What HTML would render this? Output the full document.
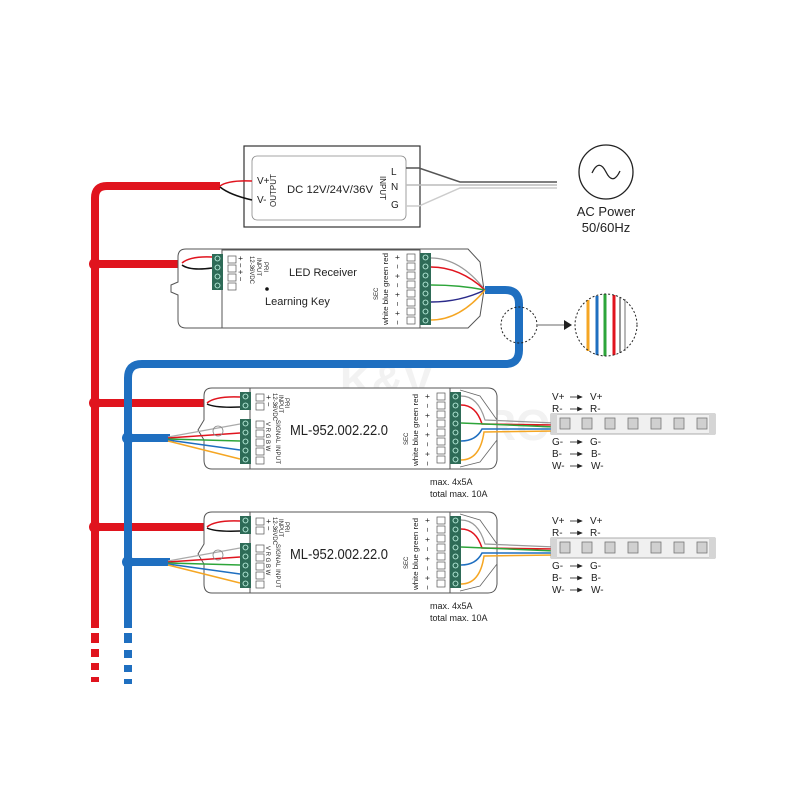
<!DOCTYPE html>
<html><head><meta charset="utf-8"><style>
html,body{margin:0;padding:0;background:#fff}
svg{display:block}
text{font-family:"Liberation Sans",sans-serif;fill:#222}
</style></head><body>
<svg width="800" height="800" viewBox="0 0 800 800" xmlns="http://www.w3.org/2000/svg">
<defs>
<g id="term"><rect x="0" y="0" width="11" height="9" fill="#2e6b57"/><circle cx="5.5" cy="4.5" r="2.5" fill="none" stroke="#cfe" stroke-width="0.8"/></g>
<g id="sq"><rect x="0" y="0" width="8" height="7" fill="#fff" stroke="#555" stroke-width="0.7"/></g>
<marker id="ah" markerWidth="8" markerHeight="8" refX="6" refY="3" orient="auto"><path d="M0,0 L7,3 L0,6 Z" fill="#222"/></marker>
<g id="ctrl">
  <path d="M212,388 L488,388 Q496,388 497,396 L497,460 Q496,469 488,469 L212,469 Q204,469 204,460 L204,440 L198,430 L204,420 L204,396 Q204,388 212,388 Z" fill="#fff" stroke="#555" stroke-width="1"/>
  <path d="M460,390 L480,396 L497,420 L497,440 L480,462 L460,467" fill="none" stroke="#666" stroke-width="0.8"/>
  <rect x="250" y="388" width="200" height="81" fill="#fff" stroke="#555" stroke-width="1"/>
  <use href="#term" x="240" y="392"/><use href="#term" x="240" y="401"/>
  <use href="#term" x="240" y="419"/><use href="#term" x="240" y="428"/><use href="#term" x="240" y="437"/><use href="#term" x="240" y="446"/><use href="#term" x="240" y="455"/>
  <use href="#sq" x="256" y="394"/><use href="#sq" x="256" y="403"/>
  <use href="#sq" x="256" y="421"/><use href="#sq" x="256" y="430"/><use href="#sq" x="256" y="439"/><use href="#sq" x="256" y="448"/><use href="#sq" x="256" y="457"/>
  <g transform="translate(266,395) rotate(90)"><text font-size="8">+  −</text></g>
  <g transform="translate(273,393) rotate(90)"><text font-size="6">12-36VDC</text></g>
  <g transform="translate(279,395) rotate(90)"><text font-size="6">INPUT</text></g>
  <g transform="translate(285,398) rotate(90)"><text font-size="6">PRI</text></g>
  <g transform="translate(266,422) rotate(90)"><text font-size="6">V  R  G  B  W</text></g>
  <g transform="translate(276,420) rotate(90)"><text font-size="6" textLength="44">SIGNAL INPUT</text></g>
  <text x="290" y="435" font-size="15" textLength="98" lengthAdjust="spacingAndGlyphs">ML-952.002.22.0</text>
  <g transform="translate(418,466) rotate(-90)"><text font-size="7" textLength="72" lengthAdjust="spacingAndGlyphs">white  blue  green  red</text></g>
  <g transform="translate(408,445) rotate(-90)"><text font-size="6">SEC</text></g>
  <g transform="translate(430,466) rotate(-90)"><text font-size="8" textLength="72">− + − + − + − +</text></g>
  <use href="#sq" x="437" y="393"/><use href="#sq" x="437" y="402"/><use href="#sq" x="437" y="411"/><use href="#sq" x="437" y="420"/><use href="#sq" x="437" y="429"/><use href="#sq" x="437" y="438"/><use href="#sq" x="437" y="447"/><use href="#sq" x="437" y="456"/>
  <use href="#term" x="450" y="392"/><use href="#term" x="450" y="401"/><use href="#term" x="450" y="410"/><use href="#term" x="450" y="419"/><use href="#term" x="450" y="428"/><use href="#term" x="450" y="437"/><use href="#term" x="450" y="446"/><use href="#term" x="450" y="455"/>
  <path d="M207,403 Q215,396 240,397" stroke="#e0141e" stroke-width="1.5" fill="none"/>
  <path d="M207,404 Q215,408 240,407" stroke="#111" stroke-width="1.5" fill="none"/>
  <path d="M168,437 L240,424" stroke="#aaa" stroke-width="1.2" fill="none"/>
  <path d="M168,438 L240,433" stroke="#e0141e" stroke-width="1.5" fill="none"/>
  <path d="M168,439 L240,441" stroke="#2da53a" stroke-width="1.5" fill="none"/>
  <path d="M168,440 L240,450" stroke="#1f6fc0" stroke-width="1.5" fill="none"/>
  <path d="M168,441 L240,459" stroke="#f5a623" stroke-width="1.5" fill="none"/>
  <circle cx="218" cy="431" r="5" fill="none" stroke="#888" stroke-width="0.8"/>
  <path d="M461,396 Q478,396 485,420 L555,423" stroke="#999" stroke-width="1.2" fill="none"/>
  <path d="M461,405 Q476,405 482,424 L555,425" stroke="#e0141e" stroke-width="1.5" fill="none"/>
  <path d="M461,423 L555,427" stroke="#2da53a" stroke-width="1.5" fill="none"/>
  <path d="M461,441 Q476,441 482,429 L555,429" stroke="#1f6fc0" stroke-width="1.5" fill="none"/>
  <path d="M461,460 Q480,460 484,432 L555,431" stroke="#f5a623" stroke-width="1.5" fill="none"/>
  <rect x="551" y="414" width="164" height="20" fill="#f0f0f0" stroke="#999" stroke-width="0.8"/>
  <rect x="551" y="414" width="6" height="20" fill="#d5d5d5"/><rect x="709" y="414" width="6" height="20" fill="#d5d5d5"/>
  <g fill="#d0d0d0" stroke="#777" stroke-width="0.8">
    <rect x="560" y="418" width="10" height="11"/><rect x="582" y="418" width="10" height="11"/><rect x="605" y="418" width="10" height="11"/><rect x="628" y="418" width="10" height="11"/><rect x="651" y="418" width="10" height="11"/><rect x="674" y="418" width="10" height="11"/><rect x="697" y="418" width="10" height="11"/>
  </g>
  <g font-size="10">
  <text x="552" y="400">V+</text><text x="590" y="400">V+</text>
  <text x="552" y="412">R-</text><text x="590" y="412">R-</text>
  <text x="552" y="445">G-</text><text x="590" y="445">G-</text>
  <text x="552" y="457">B-</text><text x="591" y="457">B-</text>
  <text x="552" y="469">W-</text><text x="591" y="469">W-</text>
  </g>
  <g stroke="#222" stroke-width="0.8" marker-end="url(#ah)">
  <line x1="570" y1="397" x2="582" y2="397"/><line x1="570" y1="409" x2="582" y2="409"/><line x1="570" y1="442" x2="582" y2="442"/><line x1="570" y1="454" x2="582" y2="454"/><line x1="570" y1="466" x2="582" y2="466"/>
  </g>
  <text x="430" y="485" font-size="9">max. 4x5A</text>
  <text x="430" y="497" font-size="9">total max. 10A</text>
</g>
</defs>

<text x="340" y="395" font-size="44" font-weight="bold" style="fill:#f2f2f2">K&amp;V</text>
<text x="340" y="440" font-size="44" font-weight="bold" style="fill:#f2f2f2">ELEKTRO</text>

<rect x="244" y="146" width="176" height="81" fill="#fff" stroke="#333" stroke-width="1.2"/>
<rect x="252" y="156" width="154" height="64" rx="5" fill="#fff" stroke="#888" stroke-width="0.8"/>
<text x="257" y="184" font-size="10">V+</text>
<text x="257" y="203" font-size="10">V-</text>
<g transform="translate(276,207) rotate(-90)"><text font-size="8">OUTPUT</text></g>
<text x="287" y="193" font-size="11" textLength="86" lengthAdjust="spacingAndGlyphs">DC 12V/24V/36V</text>
<g transform="translate(380,176) rotate(90)"><text font-size="8">INPUT</text></g>
<text x="391" y="175" font-size="10">L</text>
<text x="391" y="190" font-size="10">N</text>
<text x="391" y="208" font-size="10">G</text>
<path d="M406,168 L419,168 L460,182 L557,182" stroke="#555" stroke-width="1.5" fill="none"/>
<path d="M406,185 L460,185 L557,185" stroke="#bbb" stroke-width="1.5" fill="none"/>
<path d="M406,206 L419,206 L460,188 L557,188" stroke="#ccc" stroke-width="1.5" fill="none"/>
<circle cx="606" cy="172" r="27" fill="#fff" stroke="#222" stroke-width="1.3"/>
<path d="M592,173 Q599,158 606,172 Q613,186 620,171" fill="none" stroke="#222" stroke-width="1.3"/>
<text x="606" y="216" font-size="13" text-anchor="middle">AC Power</text>
<text x="606" y="232" font-size="13" text-anchor="middle">50/60Hz</text>

<path d="M95,628 L95,198 Q95,186 107,186 L220,186" stroke="#e0141e" stroke-width="8" fill="none"/>
<path d="M220,186 Q228,180 252,181" stroke="#e0141e" stroke-width="1.5" fill="none"/>
<path d="M220,187 Q230,195 252,200" stroke="#111" stroke-width="1.5" fill="none"/>
<line x1="95" y1="264" x2="182" y2="264" stroke="#e0141e" stroke-width="8"/>
<line x1="95" y1="403" x2="207" y2="403" stroke="#e0141e" stroke-width="8"/>
<line x1="95" y1="527" x2="207" y2="527" stroke="#e0141e" stroke-width="8"/>
<circle cx="95" cy="264" r="6" fill="#e0141e"/>
<circle cx="95" cy="403" r="6" fill="#e0141e"/>
<circle cx="95" cy="527" r="6" fill="#e0141e"/>
<g fill="#e0141e"><rect x="91" y="633" width="8" height="10"/><rect x="91" y="649" width="8" height="8"/><rect x="91" y="663" width="8" height="7"/><rect x="91" y="677" width="8" height="5"/></g>

<path d="M128,628 L128,378 Q128,364 142,364 L505,364 Q519,364 519,350 L519,304 Q519,290 505,290 L485,290" stroke="#1f6fc0" stroke-width="8" fill="none"/>
<line x1="128" y1="438" x2="170" y2="438" stroke="#1f6fc0" stroke-width="8"/>
<line x1="128" y1="562" x2="170" y2="562" stroke="#1f6fc0" stroke-width="8"/>
<circle cx="128" cy="438" r="6" fill="#1f6fc0"/>
<circle cx="128" cy="562" r="6" fill="#1f6fc0"/>
<g fill="#1f6fc0"><rect x="124" y="633" width="8" height="10"/><rect x="124" y="650" width="8" height="8"/><rect x="124" y="665" width="8" height="7"/><rect x="124" y="679" width="8" height="5"/></g>

<path d="M186,249 L468,249 L480,262 L484,290 L480,316 L468,328 L186,328 Q178,328 178,320 L178,295 L171,292 L171,285 L178,282 L178,257 Q178,249 186,249 Z" fill="#fff" stroke="#555" stroke-width="1"/>
<rect x="222" y="250" width="198" height="78" fill="#fff" stroke="#555" stroke-width="1"/>
<use href="#term" x="212" y="254"/><use href="#term" x="212" y="263"/><use href="#term" x="212" y="272"/><use href="#term" x="212" y="281"/>
<use href="#sq" x="228" y="256"/><use href="#sq" x="228" y="265"/><use href="#sq" x="228" y="274"/><use href="#sq" x="228" y="283"/>
<g transform="translate(238,256) rotate(90)"><text font-size="8">+ − + −</text></g>
<g transform="translate(250,256) rotate(90)"><text font-size="6">12-36VDC</text></g>
<g transform="translate(257,258) rotate(90)"><text font-size="6">INPUT</text></g>
<g transform="translate(264,262) rotate(90)"><text font-size="6">PRI</text></g>
<text x="289" y="276" font-size="11">LED Receiver</text>
<circle cx="267" cy="289" r="1.8" fill="#111"/>
<text x="265" y="305" font-size="11">Learning Key</text>
<g transform="translate(388,325) rotate(-90)"><text font-size="7" textLength="72" lengthAdjust="spacingAndGlyphs">white  blue  green  red</text></g>
<g transform="translate(378,300) rotate(-90)"><text font-size="6">SEC</text></g>
<g transform="translate(400,325) rotate(-90)"><text font-size="8" textLength="70">− + − + − + − +</text></g>
<use href="#sq" x="407" y="254"/><use href="#sq" x="407" y="263"/><use href="#sq" x="407" y="272"/><use href="#sq" x="407" y="281"/><use href="#sq" x="407" y="290"/><use href="#sq" x="407" y="299"/><use href="#sq" x="407" y="308"/><use href="#sq" x="407" y="317"/>
<use href="#term" x="420" y="253"/><use href="#term" x="420" y="262"/><use href="#term" x="420" y="271"/><use href="#term" x="420" y="280"/><use href="#term" x="420" y="289"/><use href="#term" x="420" y="298"/><use href="#term" x="420" y="307"/><use href="#term" x="420" y="316"/>
<path d="M182,263 Q190,256 212,257" stroke="#e0141e" stroke-width="1.5" fill="none"/>
<path d="M182,265 Q190,271 212,268" stroke="#111" stroke-width="1.5" fill="none"/>
<path d="M431,258 Q460,258 485,290" stroke="#999" stroke-width="1.2" fill="none"/>
<path d="M431,267 Q460,267 485,290" stroke="#e0141e" stroke-width="1.5" fill="none"/>
<path d="M431,285 Q460,285 485,290" stroke="#2da53a" stroke-width="1.5" fill="none"/>
<path d="M431,302 Q460,302 485,290" stroke="#2a2a8a" stroke-width="1.5" fill="none"/>
<path d="M431,320 Q460,320 485,290" stroke="#f5a623" stroke-width="1.5" fill="none"/>

<circle cx="519" cy="325" r="18" fill="none" stroke="#222" stroke-width="1" stroke-dasharray="2,2"/>
<line x1="538" y1="325" x2="566" y2="325" stroke="#888" stroke-width="1.2"/>
<path d="M564,320 L572,325 L564,330 Z" fill="#222"/>
<circle cx="606" cy="325" r="31" fill="#fff"/>
<g stroke-width="3">
<line x1="588" y1="300" x2="588" y2="351" stroke="#f5a623"/>
<line x1="597" y1="296" x2="597" y2="355" stroke="#1f6fc0"/>
<line x1="605" y1="294" x2="605" y2="356" stroke="#2da53a"/>
<line x1="614" y1="295" x2="614" y2="355" stroke="#e0141e"/>
</g>
<line x1="620" y1="297" x2="620" y2="353" stroke="#555" stroke-width="1.2"/>
<line x1="625" y1="299" x2="625" y2="351" stroke="#888" stroke-width="1.2"/>
<circle cx="606" cy="325" r="31" fill="none" stroke="#222" stroke-width="1" stroke-dasharray="2,2"/>

<use href="#ctrl"/>
<use href="#ctrl" transform="translate(0,124)"/>
</svg>
</body></html>
